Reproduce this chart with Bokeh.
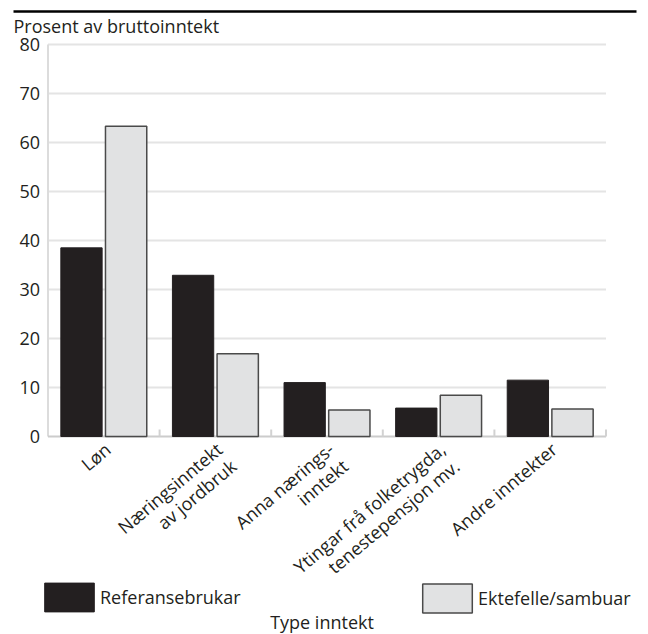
import math
from bokeh.plotting import figure
from bokeh.models import Range1d, Legend, LegendItem, ColumnDataSource
from bokeh.core.properties import value
from bokeh.embed import file_html
from bokeh.resources import INLINE

categories = ["Løn", "Næringsinntekt av jordbruk", "Anna næringsinntekt",
              "Ytingar frå folketrygda, tenestepensjon mv.", "Andre inntekter"]
category_label_lines = [["Løn"], ["Næringsinntekt", "av jordbruk"], ["Anna nærings-", "inntekt"],
                        ["Ytingar frå folketrygda,", "tenestepensjon mv."], ["Andre inntekter"]]
referansebrukar = [38.5, 32.9, 11.0, 5.8, 11.5]
ektefelle_sambuar = [63.3, 16.9, 5.4, 8.4, 5.6]
y_ticks = [0, 10, 20, 30, 40, 50, 60, 70, 80]
y_title = "Prosent av bruttoinntekt"
x_title = "Type inntekt"

FONT = value("Open Sans")
TXT = "#231f20"
W, H = 648, 634
X0, CW = 47.5, 111.6      # pixel of category axis start, pixels per category
Y0, PU = 436.0, 4.9       # pixel of value 0, pixels per unit
n = len(categories)

def dx(px):
    return px / CW

def dy(px):
    return px / PU

p = figure(width=W, height=H, x_range=Range1d(-X0 / CW, (W - X0) / CW),
           y_range=Range1d(-(H - Y0) / PU, Y0 / PU), output_backend="svg",
           toolbar_location=None, min_border=0)
p.axis.visible = False
p.grid.visible = False
p.outline_line_color = None

# grid lines and axis lines
grid_y = [t for t in y_ticks if t > 0]
p.segment(x0=0, x1=n, y0=grid_y, y1=grid_y, line_color="#e4e4e4", line_width=2)
p.segment(x0=0, x1=0, y0=0, y1=y_ticks[-1], line_color="#dcdcdc", line_width=2)
p.segment(x0=0, x1=n, y0=0, y1=0, line_color="#cccccc", line_width=2)
bx = [i + 1 for i in range(n)]
p.segment(x0=bx, x1=bx, y0=0, y1=dy(7), line_color="#d2d2d2", line_width=2)

src = ColumnDataSource(dict(x_ref=[i + 0.30 for i in range(n)],
                            x_ekt=[i + 0.70 for i in range(n)],
                            ref=referansebrukar, ekt=ektefelle_sambuar))
r1 = p.vbar(x="x_ref", top="ref", width=0.37, source=src,
            fill_color="#231f20", line_color="#231f20")
r2 = p.vbar(x="x_ekt", top="ekt", width=0.37, source=src,
            fill_color="#e1e2e3", line_color="#4a4a4a", line_width=1.5)

# y tick labels
p.text(x=[-dx(8)] * len(y_ticks), y=y_ticks, text=[str(t) for t in y_ticks],
       text_align="right", text_baseline="middle", text_font=FONT,
       text_font_size="18px", text_color=TXT)

# rotated category labels (right aligned lines)
ang = math.radians(40)
lx, ly, lt = [], [], []
for i, lines in enumerate(category_label_lines):
    for k, line in enumerate(lines):
        sx = 4 + k * 22 * math.sin(ang)
        sy = 10 + k * 22 * math.cos(ang)
        lx.append(i + 0.5 + dx(sx))
        ly.append(-dy(sy))
        lt.append(line)
p.text(x=lx, y=ly, text=lt, angle=ang, text_align="right", text_baseline="middle",
       text_font=FONT, text_font_size="18px", text_color=TXT)

# titles and top rule
p.segment(x0=-dx(X0 - 13), x1=dx(636 - X0), y0=dy(Y0 - 11), y1=dy(Y0 - 11),
          line_color="black", line_width=2.5)
p.text(x=[-dx(X0 - 13)], y=[dy(Y0 - 25)], text=[y_title], text_align="left",
       text_baseline="middle", text_font=FONT, text_font_size="18px", text_color=TXT)
p.text(x=[dx(321.5 - X0)], y=[-dy(621 - Y0)], text=[x_title], text_align="center",
       text_baseline="middle", text_font=FONT, text_font_size="18px", text_color=TXT)

common = dict(orientation="horizontal", glyph_width=62, glyph_height=36, label_standoff=0,
              label_text_font="Open Sans", label_text_font_size="18px",
              label_text_color=TXT, border_line_color=None, background_fill_alpha=0,
              padding=0, margin=0)
leg1 = Legend(items=[LegendItem(label="Referansebrukar", renderers=[r1])],
              location=(38, 19), **common)
leg2 = Legend(items=[LegendItem(label="Ektefelle/sambuar", renderers=[r2])],
              location=(416, 18), **common)
p.add_layout(leg1)
p.add_layout(leg2)

open("out.html", "w").write(file_html(p, INLINE))
